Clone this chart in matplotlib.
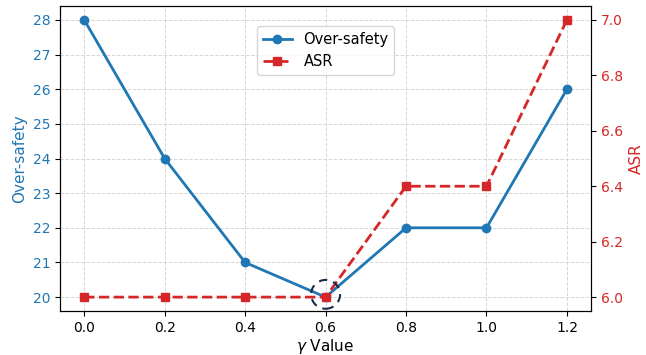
import matplotlib
matplotlib.use("Agg")
import matplotlib.pyplot as plt
from matplotlib.patches import Ellipse

gamma = [0.0, 0.2, 0.4, 0.6, 0.8, 1.0, 1.2]
over_safety = [28, 24, 21, 20.0, 22, 22, 26]
asr = [6.0, 6.0, 6.0, 6.0, 6.4, 6.4, 7.0]
highlight_idx = 3

blue = '#1f77b4'
red = '#d62728'

fig = plt.figure(figsize=(6.46, 3.55), dpi=100)
ax1 = fig.add_axes([0.093, 0.124, 0.822, 0.859])
l1, = ax1.plot(gamma, over_safety, '-o', color=blue, lw=2, ms=6, label='Over-safety')
ax1.set_xlabel(r'$\gamma$ Value', fontsize=11, labelpad=2)
ax1.set_ylabel('Over-safety', color=blue, fontsize=11)
ax1.tick_params(axis='y', labelcolor=blue)
ax1.grid(True, linestyle='--', color='#cccccc', alpha=0.8, lw=0.7)
ax1.set_xticks(gamma)
ax1.set_ylim(19.6, 28.4)

ax2 = ax1.twinx()
l2, = ax2.plot(gamma, asr, '--s', color=red, lw=2, ms=6, label='ASR')
ax2.set_ylabel('ASR', color=red, fontsize=11)
ax2.tick_params(axis='y', labelcolor=red)
ax2.set_ylim(5.95, 7.05)

# dashed circle highlighting the chosen gamma
ax2.add_patch(Ellipse((gamma[highlight_idx], asr[highlight_idx] + 0.01), 0.072, 0.104,
                      fill=False, ec='#1b2a49', lw=1.5, ls=(0, (4, 3)), zorder=6))
ax2.set_ylim(5.95, 7.05)

ax1.legend([l1, l2], ['Over-safety', 'ASR'], loc='upper center',
           bbox_to_anchor=(0.5, 0.935), borderaxespad=0, fontsize=10.5)

fig.savefig('out.png', dpi=100)
